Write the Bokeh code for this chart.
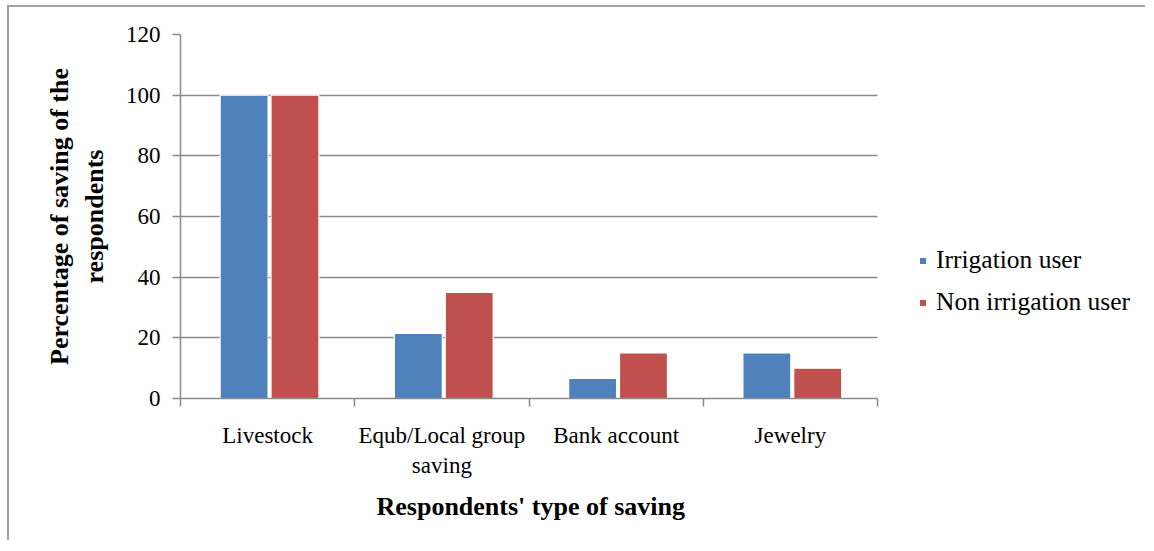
from bokeh.plotting import figure
from bokeh.models import (ColumnDataSource, Range1d, FixedTicker, Legend, LegendItem, Title)
from bokeh.embed import file_html
from bokeh.resources import INLINE

categories = ["Livestock", "Equb/Local group\nsaving", "Bank account", "Jewelry"]
irrigation_user = [100, 21.5, 6.6, 15]
non_irrigation_user = [100, 35, 15, 10]
y_ticks = [0, 20, 40, 60, 80, 100, 120]

FONT = "Liberation Serif"
GRAY = "#8a8a8a"
BLUE = "#4F81BD"
RED = "#C0504D"

n = len(categories)
centers = [i + 0.5 for i in range(n)]      # category slot centres
edges = list(range(n + 1))                 # category slot boundaries

# The frame is widened to the right so the legend can sit beside the bars;
# the axis and gridlines are bounded to the category slots only.
x_end = n * 957 / 697

p = figure(x_range=Range1d(0, x_end), y_range=Range1d(0, 120),
           width=1138, height=535, output_backend="svg", toolbar_location=None,
           min_border_left=171, min_border_right=10, min_border_top=27,
           min_border_bottom=144)
p.outline_line_color = None
p.background_fill_color = "white"
p.border_fill_color = "white"
p.styles = {"border-left": "2px solid #a0a0a0", "border-top": "2px solid #a0a0a0",
            "margin-left": "7px", "margin-top": "5px"}

src = ColumnDataSource(dict(
    x_irr=[c - 0.135 for c in centers], x_non=[c + 0.157 for c in centers],
    irr=irrigation_user, non=non_irrigation_user))
r1 = p.vbar(x="x_irr", top="irr", width=0.275, source=src,
            fill_color=BLUE, line_color="white", line_width=1.2)
r2 = p.vbar(x="x_non", top="non", width=0.275, source=src,
            fill_color=RED, line_color="white", line_width=1.2)

# y axis
ya = p.yaxis[0]
ya.ticker = FixedTicker(ticks=y_ticks)
ya.axis_line_color = GRAY
ya.axis_line_width = 1.5
ya.major_tick_line_color = GRAY
ya.major_tick_line_width = 1.5
ya.major_tick_out = 8
ya.major_tick_in = 0
ya.minor_tick_line_color = None
ya.major_label_text_font = FONT
ya.major_label_text_font_size = "23px"
ya.major_label_text_color = "black"
ya.major_label_standoff = 12
ya.axis_label = "Percentage of saving of the\nrespondents"
ya.axis_label_text_font = FONT
ya.axis_label_text_font_style = "bold"
ya.axis_label_text_font_size = "26px"
ya.axis_label_text_color = "black"
ya.axis_label_standoff = 14

p.ygrid.ticker = FixedTicker(ticks=y_ticks)
p.ygrid.grid_line_color = GRAY
p.ygrid.grid_line_width = 1.5
p.ygrid.cross_bounds = (0, n)
p.xgrid.visible = False

# x axis: labels at slot centres, tick marks at slot boundaries
xa = p.xaxis[0]
xa.bounds = (0, n)
xa.ticker = FixedTicker(ticks=centers, minor_ticks=edges)
xa.major_label_overrides = {c: lab for c, lab in zip(centers, categories)}
xa.major_tick_line_color = None
xa.minor_tick_line_color = GRAY
xa.minor_tick_line_width = 1.5
xa.minor_tick_out = 8
xa.minor_tick_in = 0
xa.axis_line_color = GRAY
xa.axis_line_width = 1.5
xa.major_label_text_font = FONT
xa.major_label_text_font_size = "23px"
xa.major_label_text_color = "black"
xa.major_label_standoff = 16

# x axis title, centred under the category slots rather than the wide frame
x_title = Title(text="Respondents' type of saving", align="left", offset=196,
                text_font=FONT, text_font_style="bold", text_font_size="26px",
                text_color="black", standoff=18)
p.add_layout(x_title, "below")

legend = Legend(items=[LegendItem(label="Irrigation user", renderers=[r1]),
                       LegendItem(label="Non irrigation user", renderers=[r2])],
                location=(738, 81), border_line_color=None,
                background_fill_alpha=0, padding=0, margin=0,
                label_text_font=FONT, label_text_font_size="25.5px",
                label_text_color="black", glyph_width=9, glyph_height=9,
                label_standoff=9, spacing=12)
p.add_layout(legend, "center")

open("out.html", "w").write(file_html(p, INLINE))
